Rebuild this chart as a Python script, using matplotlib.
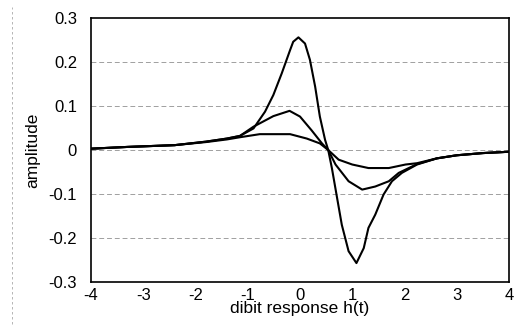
import matplotlib
matplotlib.use("Agg")
import matplotlib.pyplot as plt
from matplotlib.lines import Line2D

# Data (dibit responses)
x_tall = [-4, -3.3, -2.4, -1.8, -1.4, -1.15, -0.89, -0.67, -0.51, -0.35, -0.19, -0.13, -0.03,
          0.096, 0.19, 0.29, 0.38, 0.48, 0.54, 0.61, 0.71, 0.80, 0.93, 1.08, 1.22, 1.31, 1.44,
          1.60, 1.76, 1.95, 2.24, 2.62, 3.0, 3.5, 4.0]
y_tall = [0.003, 0.007, 0.011, 0.019, 0.026, 0.032, 0.049, 0.087, 0.125, 0.174, 0.227, 0.246,
          0.256, 0.242, 0.205, 0.144, 0.076, 0.023, 0.0, -0.041, -0.109, -0.17, -0.23, -0.257,
          -0.223, -0.177, -0.147, -0.101, -0.071, -0.052, -0.033, -0.019, -0.012, -0.007, -0.004]

x_mid = [-4, -3.3, -2.4, -1.8, -1.4, -1.15, -0.89, -0.51, -0.2, 0.0, 0.22, 0.42, 0.54, 0.68,
         0.93, 1.19, 1.44, 1.70, 1.89, 2.24, 2.62, 3.0, 3.5, 4.0]
y_mid = [0.003, 0.007, 0.011, 0.019, 0.026, 0.032, 0.053, 0.077, 0.089, 0.076, 0.045, 0.015,
         0.0, -0.033, -0.071, -0.09, -0.083, -0.071, -0.052, -0.032, -0.019, -0.012, -0.007,
         -0.004]

x_low = [-4, -3.3, -2.4, -1.8, -1.4, -1.15, -0.77, -0.19, 0.13, 0.38, 0.54, 0.74, 1.0, 1.31,
         1.70, 2.02, 2.24, 2.62, 3.0, 3.5, 4.0]
y_low = [0.003, 0.007, 0.011, 0.018, 0.024, 0.029, 0.036, 0.036, 0.026, 0.015, 0.0, -0.022,
         -0.033, -0.041, -0.041, -0.033, -0.030, -0.019, -0.012, -0.007, -0.004]

x_ticks = [-4, -3, -2, -1, 0, 1, 2, 3, 4]
y_ticks = [-0.3, -0.2, -0.1, 0, 0.1, 0.2, 0.3]
y_tick_labels = ["-0.3", "-0.2", "-0.1", "0", "0.1", "0.2", "0.3"]

plt.rcParams['font.family'] = ['Liberation Sans', 'DejaVu Sans']

fig = plt.figure(figsize=(5.18, 3.31), dpi=100)
ax = fig.add_axes([91/518, 1-282/331, (509-91)/518, (282-18)/331])

for yv in [-0.2, -0.1, 0, 0.1, 0.2]:
    ax.axhline(yv, color='#a0a0a0', lw=0.7, ls=(0, (5, 3)), zorder=1)

for xs, ys in [(x_tall, y_tall), (x_mid, y_mid), (x_low, y_low)]:
    ax.plot(xs, ys, color='black', lw=1.5, zorder=3, solid_joinstyle='round')

ax.set_xlim(-4, 4)
ax.set_ylim(-0.3, 0.3)
ax.set_xticks(x_ticks)
ax.set_xticklabels([str(t) for t in x_ticks])
ax.set_yticks(y_ticks)
ax.set_yticklabels(y_tick_labels)
ax.tick_params(axis='both', length=0, labelsize=12)
ax.tick_params(axis='x', pad=4)
ax.tick_params(axis='y', pad=10)
for s in ax.spines.values():
    s.set_linewidth(1.2)
    s.set_color('black')

ax.set_xlabel("dibit response h(t)", fontsize=12.5, labelpad=-1)
ax.set_ylabel("amplitude", fontsize=12.5, labelpad=6)

# faint page-edge line at left
fig.add_artist(Line2D([12/518, 12/518], [0.02, 0.98], transform=fig.transFigure,
                      color='#aaaaaa', lw=0.6, ls=(0, (3, 3))))

fig.savefig("out.png", dpi=100)
